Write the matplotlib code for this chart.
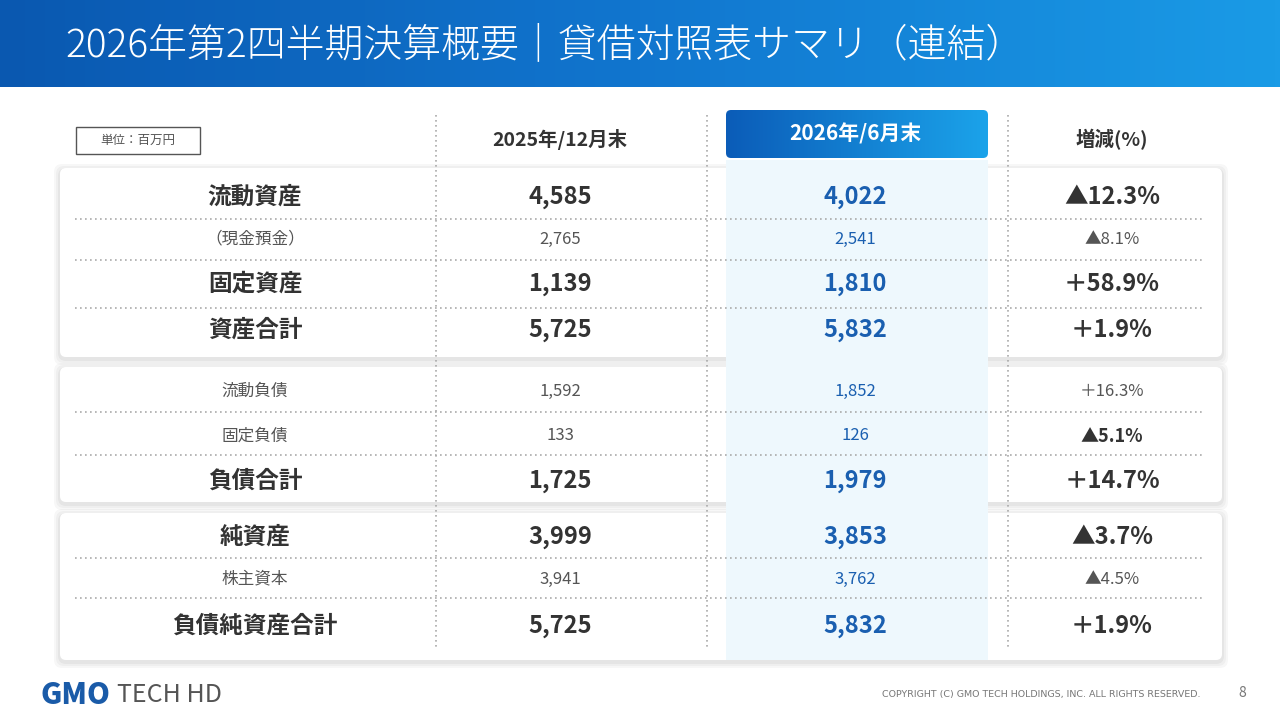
import matplotlib
matplotlib.use("Agg")
import matplotlib.pyplot as plt
import numpy as np
from matplotlib.patches import Rectangle, FancyBboxPatch
from matplotlib.colors import LinearSegmentedColormap

plt.rcParams['font.family'] = ['Noto Sans CJK JP', 'DejaVu Sans']

title = "2026年第2四半期決算概要｜貸借対照表サマリ（連結）"
col_headers = ["2025年/12月末", "2026年/6月末", "増減(%)"]
unit_label = "単位：百万円"
labels = ["流動資産", "（現金預金）", "固定資産", "資産合計",
          "流動負債", "固定負債", "負債合計",
          "純資産", "株主資本", "負債純資産合計"]
prev = ["4,585", "2,765", "1,139", "5,725", "1,592", "133", "1,725", "3,999", "3,941", "5,725"]
curr = ["4,022", "2,541", "1,810", "5,832", "1,852", "126", "1,979", "3,853", "3,762", "5,832"]
change = ["▲12.3%", "▲8.1%", "＋58.9%", "＋1.9%", "＋16.3%", "▲5.1%", "＋14.7%", "▲3.7%", "▲4.5%", "＋1.9%"]
bold = [True, False, True, True, False, False, True, True, False, True]
chg_bold = [True, False, True, True, False, True, True, True, False, True]

fig = plt.figure(figsize=(12.8, 7.2), dpi=100)
ax = fig.add_axes([0, 0, 1, 1])
ax.set_xlim(0, 1280); ax.set_ylim(720, 0); ax.axis('off')
fig.patch.set_facecolor('white')

grad = np.linspace(0, 1, 256).reshape(1, -1)
cm = LinearSegmentedColormap.from_list('g', ['#0a58b0', '#1176cf', '#1a9be6'])
ax.imshow(grad, extent=[0, 1280, 87, 0], cmap=cm, aspect='auto', zorder=1)
ax.text(65, 45, title, color='white', fontsize=28, fontweight='light', va='center', ha='left', zorder=2)

cards = [(168, 357), (367, 502), (513, 660)]
for y0, y1 in cards:
    for i, a in enumerate([0.03, 0.03, 0.04]):
        d = 6 - 2 * i
        ax.add_patch(FancyBboxPatch((60 - d, y0 - d + 2), 1162 + 2 * d, y1 - y0 + 2 * d,
                                    boxstyle="round,pad=0,rounding_size=8", fc='black', ec='none', alpha=a, zorder=2))
    ax.add_patch(FancyBboxPatch((60, y0), 1162, y1 - y0, boxstyle="round,pad=0,rounding_size=6",
                                fc='white', ec='none', zorder=3))

ax.add_patch(Rectangle((726, 160), 262, 500, fc='#eef8fd', ec='none', zorder=3.5))
pill = FancyBboxPatch((726, 110), 262, 48, boxstyle="round,pad=0,rounding_size=5", fc='none', ec='none', zorder=4)
ax.add_patch(pill)
im = ax.imshow(grad, extent=[726, 988, 158, 110], cmap=LinearSegmentedColormap.from_list('p', ['#0b5cb8', '#1ba3ea']),
               aspect='auto', zorder=4)
im.set_clip_path(pill)

ax.add_patch(Rectangle((76, 127), 124, 27, fc='white', ec='#555555', lw=1, zorder=4))
ax.text(138, 140.5, unit_label, fontsize=9, color='#555555', ha='center', va='center', zorder=5)

cx = [255, 560, 855, 1112]
ax.text(cx[1], 140, col_headers[0], fontsize=14, fontweight='bold', color='#333333', ha='center', va='center', zorder=5)
ax.text(cx[2], 134, col_headers[1], fontsize=15, fontweight='bold', color='white', ha='center', va='center', zorder=5)
ax.text(cx[3], 140, col_headers[2], fontsize=14, fontweight='bold', color='#333333', ha='center', va='center', zorder=5)

for x in [436, 707, 1008]:
    ax.plot([x, x], [115, 650], color='#aaaaaa', lw=1.2, ls=(0, (1, 2)), zorder=6)
for y in [219, 260, 308, 412, 455, 558, 598]:
    ax.plot([75, 1205], [y, y], color='#aaaaaa', lw=1.2, ls=(0, (1, 2)), zorder=6)

rows_y = [197, 239, 284, 330, 391, 436, 481, 537, 579, 626]
for i, y in enumerate(rows_y):
    b = bold[i]
    fs = 17 if b else 12
    fw = 'bold' if b else 'normal'
    tc = '#333333' if b else '#555555'
    ax.text(cx[0], y, labels[i], fontsize=fs, fontweight=fw, color=tc, ha='center', va='center', zorder=7)
    ax.text(cx[1], y, prev[i], fontsize=fs, fontweight=fw, color=tc, ha='center', va='center', zorder=7)
    ax.text(cx[2], y, curr[i], fontsize=fs, fontweight=fw, color='#1a5fb0', ha='center', va='center', zorder=7)
    cb = chg_bold[i]
    ax.text(cx[3], y, change[i], fontsize=(17 if b else 13) if cb else 12, fontweight='bold' if cb else 'normal',
            color='#333333' if cb else '#555555', ha='center', va='center', zorder=7)

ax.text(40, 695, "GMO", fontsize=21, fontweight='black', color='#1a5ba8', ha='left', va='center', zorder=7)
ax.text(117, 695, "TECH HD", fontsize=18, color='#555555', ha='left', va='center', zorder=7)
ax.text(1200, 695, "COPYRIGHT (C) GMO TECH HOLDINGS, INC. ALL RIGHTS RESERVED.", fontsize=6.8,
        color='#777777', ha='right', va='center', zorder=7, fontstretch='expanded', family='DejaVu Sans')
ax.text(1242, 693, "8", fontsize=10, color='#777777', ha='center', va='center', zorder=7)

fig.savefig('out.png', dpi=100)
